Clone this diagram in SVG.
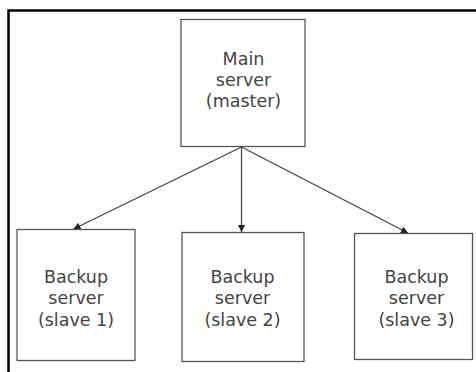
<svg xmlns="http://www.w3.org/2000/svg" width="476" height="372" viewBox="0 0 476 372">
<style>
.box{fill:#fff;stroke:#555;stroke-width:1.3}
.lbl{font-family:"DejaVu Sans",Verdana,sans-serif;font-size:17.5px;fill:#444;text-anchor:middle}
.conn{stroke:#444;stroke-width:1.3;fill:none}
</style>
<defs>
<marker id="ah" viewBox="0 0 10 10" refX="10" refY="5" markerWidth="7" markerHeight="7" markerUnits="userSpaceOnUse" orient="auto">
<path d="M0,0 L10,5 L0,10 Z" fill="#222"/>
</marker>
</defs>
<rect x="0" y="0" width="476" height="372" fill="#fff"/>
<path d="M8.5,380 L8.5,10.5 L480,10.5" fill="none" stroke="#000" stroke-width="2.5"/>
<g id="main">
<rect class="box" x="181" y="19.5" width="124" height="127"/>
<text class="lbl" x="243.5" y="65">Main</text>
<text class="lbl" x="243.5" y="86">server</text>
<text class="lbl" x="243.5" y="107">(master)</text>
</g>
<g id="slave1">
<rect class="box" x="17" y="229.5" width="118" height="131"/>
<text class="lbl" x="76" y="283">Backup</text>
<text class="lbl" x="76" y="304">server</text>
<text class="lbl" x="76" y="325.5">(slave 1)</text>
</g>
<g id="slave2">
<rect class="box" x="182" y="232.5" width="122" height="129"/>
<text class="lbl" x="242.5" y="283">Backup</text>
<text class="lbl" x="242.5" y="304">server</text>
<text class="lbl" x="242.5" y="325.5">(slave 2)</text>
</g>
<g id="slave3">
<rect class="box" x="354.5" y="233.5" width="118" height="126"/>
<text class="lbl" x="416.5" y="283">Backup</text>
<text class="lbl" x="416.5" y="304">server</text>
<text class="lbl" x="416.5" y="325.5">(slave 3)</text>
</g>
<g id="connectors">
<line class="conn" x1="241.5" y1="147" x2="73.5" y2="229" marker-end="url(#ah)"/>
<line class="conn" x1="241.5" y1="147" x2="241.5" y2="232" marker-end="url(#ah)"/>
<line class="conn" x1="241.5" y1="147" x2="408" y2="233" marker-end="url(#ah)"/>
</g>
</svg>
